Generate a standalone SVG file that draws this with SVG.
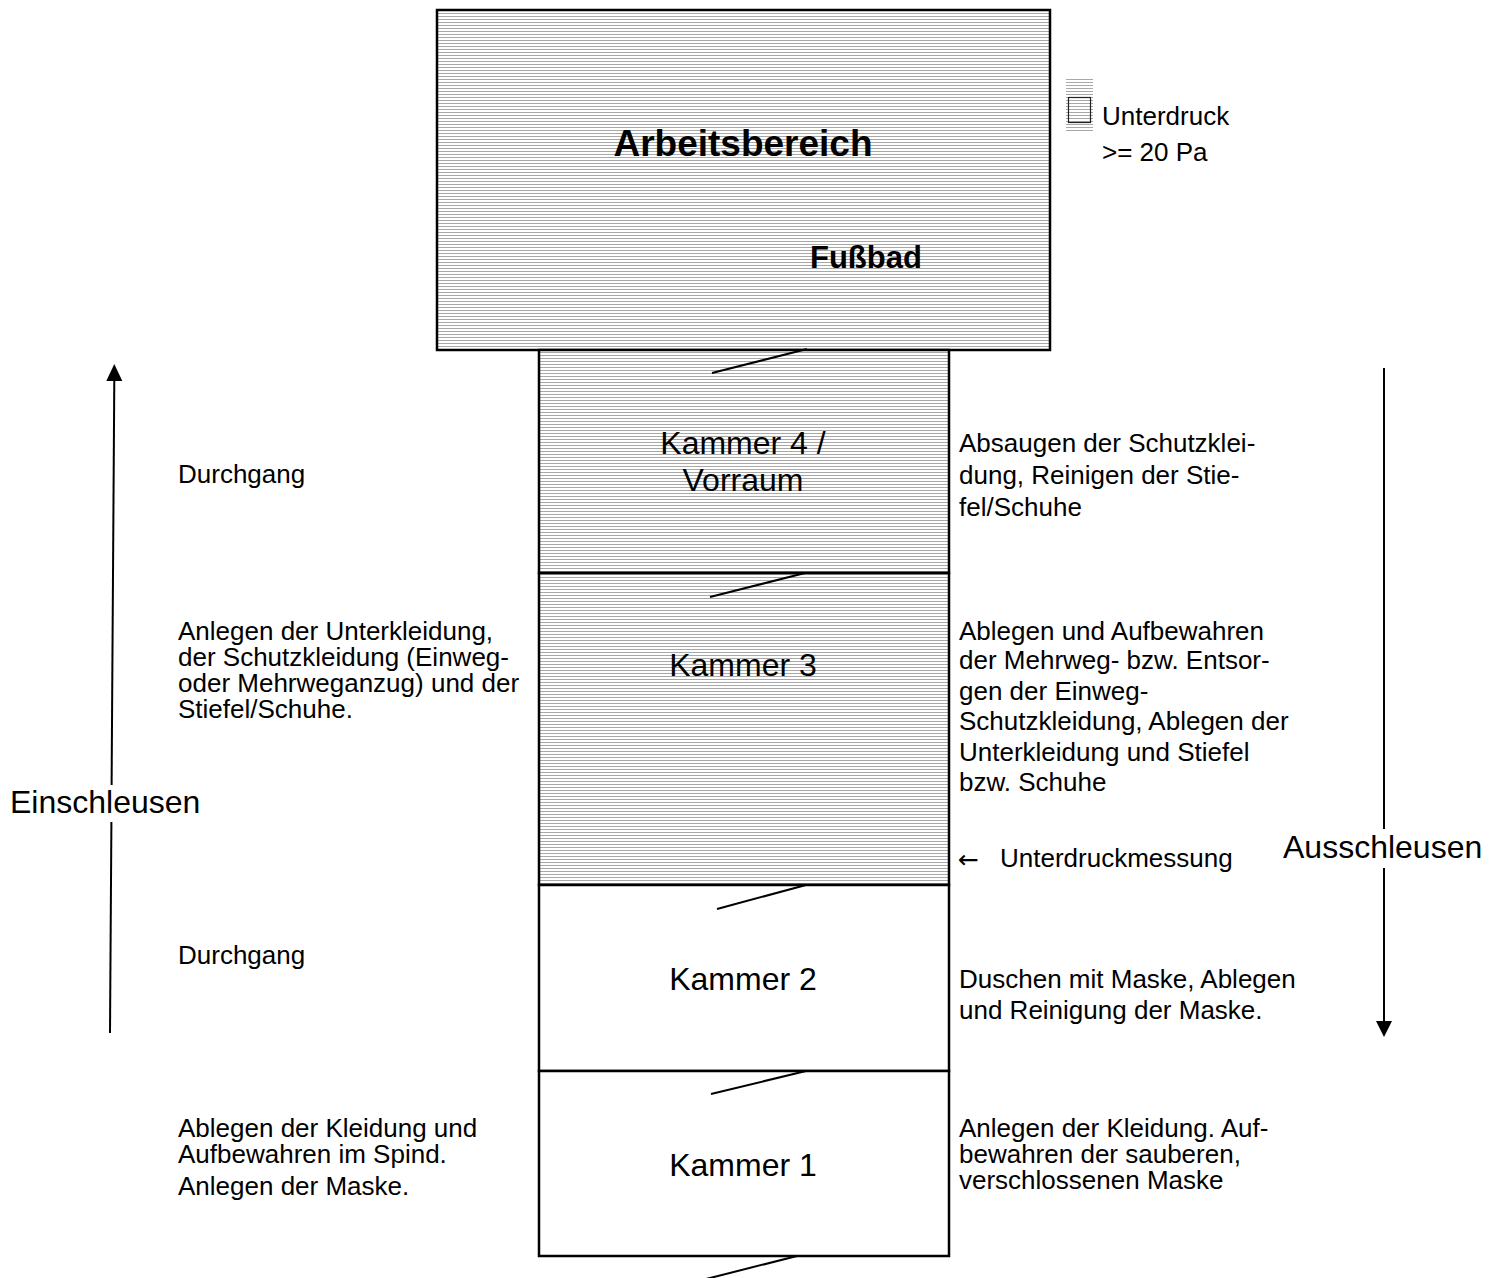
<svg xmlns="http://www.w3.org/2000/svg" width="1496" height="1278" viewBox="0 0 1496 1278">
<defs>
<pattern id="hatch" patternUnits="userSpaceOnUse" width="6" height="3">
<rect x="0" y="0" width="6" height="3" fill="#ffffff"/>
<rect x="0" y="1" width="6" height="1" fill="#a8a8a8"/>
</pattern>
</defs>
<style>
.room{stroke:#000;stroke-width:2.5}
.t{font-family:"Liberation Sans",Arial,sans-serif;font-size:26px;fill:#000}
.big{font-family:"Liberation Sans",Arial,sans-serif;font-size:32px;fill:#000}
.door{stroke:#000;stroke-width:2;fill:none}
.arr{stroke:#000;stroke-width:2;fill:none}
</style>
<rect x="0" y="0" width="1496" height="1278" fill="#fff"/>

<g id="arbeitsbereich">
<rect class="room" x="437" y="10" width="613" height="340" fill="url(#hatch)"/>
<text x="743" y="156" text-anchor="middle" style="font-family:'Liberation Sans',Arial,sans-serif;font-size:37px;font-weight:bold">Arbeitsbereich</text>
<text x="810" y="268" style="font-family:'Liberation Sans',Arial,sans-serif;font-size:31px;font-weight:bold">Fußbad</text>
</g>

<g id="kammer4">
<rect class="room" x="539" y="350" width="410" height="223" fill="url(#hatch)"/>
<text class="big" x="743" y="454" text-anchor="middle">Kammer 4 /</text>
<text class="big" x="743" y="491" text-anchor="middle">Vorraum</text>
</g>

<g id="kammer3">
<rect class="room" x="539" y="573" width="410" height="312" fill="url(#hatch)"/>
<text class="big" x="743" y="676" text-anchor="middle">Kammer 3</text>
</g>

<g id="kammer2">
<rect class="room" x="539" y="885" width="410" height="186" fill="#fff"/>
<text class="big" x="743" y="990" text-anchor="middle">Kammer 2</text>
</g>

<g id="kammer1">
<rect class="room" x="539" y="1071" width="410" height="185" fill="#fff"/>
<text class="big" x="743" y="1176" text-anchor="middle">Kammer 1</text>
</g>

<g id="legend">
<rect x="1066" y="79" width="27" height="53" fill="url(#hatch)"/>
<rect x="1068.5" y="97.5" width="22" height="25" fill="none" stroke="#222" stroke-width="1.2"/>
<text class="t" x="1102" y="125">Unterdruck</text>
<text class="t" x="1102" y="161">&gt;= 20 Pa</text>
</g>

<g id="doors">
<line class="door" x1="712" y1="373" x2="807" y2="349"/>
<line class="door" x1="710" y1="597" x2="805" y2="573"/>
<line class="door" x1="717" y1="909" x2="806" y2="885"/>
<line class="door" x1="711" y1="1094" x2="806" y2="1071"/>
<line class="door" x1="706" y1="1279" x2="797" y2="1256"/>
</g>

<g id="connectors">
<line class="arr" x1="111.6" y1="785" x2="114.3" y2="380"/>
<path d="M106.3,381 L114.3,364 L122.3,381 Z" fill="#000"/>
<line class="arr" x1="110" y1="1033" x2="111.4" y2="822"/>
<line class="arr" x1="1384" y1="368" x2="1384" y2="829"/>
<line class="arr" x1="1384" y1="868" x2="1384" y2="1022"/>
<path d="M1376,1021 L1384,1037 L1392,1021 Z" fill="#000"/>
</g>

<g id="labels">
<text class="big" x="10" y="813">Einschleusen</text>
<text class="big" x="1283" y="858">Ausschleusen</text>

<text class="t" x="178" y="483">Durchgang</text>
<text class="t" x="178" y="640">Anlegen der Unterkleidung,</text>
<text class="t" x="178" y="666">der Schutzkleidung (Einweg-</text>
<text class="t" x="178" y="692">oder Mehrweganzug) und der</text>
<text class="t" x="178" y="718">Stiefel/Schuhe.</text>
<text class="t" x="178" y="964">Durchgang</text>
<text class="t" x="178" y="1137">Ablegen der Kleidung und</text>
<text class="t" x="178" y="1163">Aufbewahren im Spind.</text>
<text class="t" x="178" y="1195">Anlegen der Maske.</text>

<text class="t" x="959" y="452">Absaugen der Schutzklei-</text>
<text class="t" x="959" y="484">dung, Reinigen der Stie-</text>
<text class="t" x="959" y="516">fel/Schuhe</text>
<text class="t" x="959" y="640">Ablegen und Aufbewahren</text>
<text class="t" x="959" y="669">der Mehrweg- bzw. Entsor-</text>
<text class="t" x="959" y="700">gen der Einweg-</text>
<text class="t" x="959" y="730">Schutzkleidung, Ablegen der</text>
<text class="t" x="959" y="761">Unterkleidung und Stiefel</text>
<text class="t" x="959" y="791">bzw. Schuhe</text>
<text x="958" y="868" style="font-family:'DejaVu Sans',sans-serif;font-size:25px">←</text>
<text class="t" x="1000" y="867">Unterdruckmessung</text>
<text class="t" x="959" y="988">Duschen mit Maske, Ablegen</text>
<text class="t" x="959" y="1019">und Reinigung der Maske.</text>
<text class="t" x="959" y="1137">Anlegen der Kleidung. Auf-</text>
<text class="t" x="959" y="1163">bewahren der sauberen,</text>
<text class="t" x="959" y="1189">verschlossenen Maske</text>
</g>
</svg>
